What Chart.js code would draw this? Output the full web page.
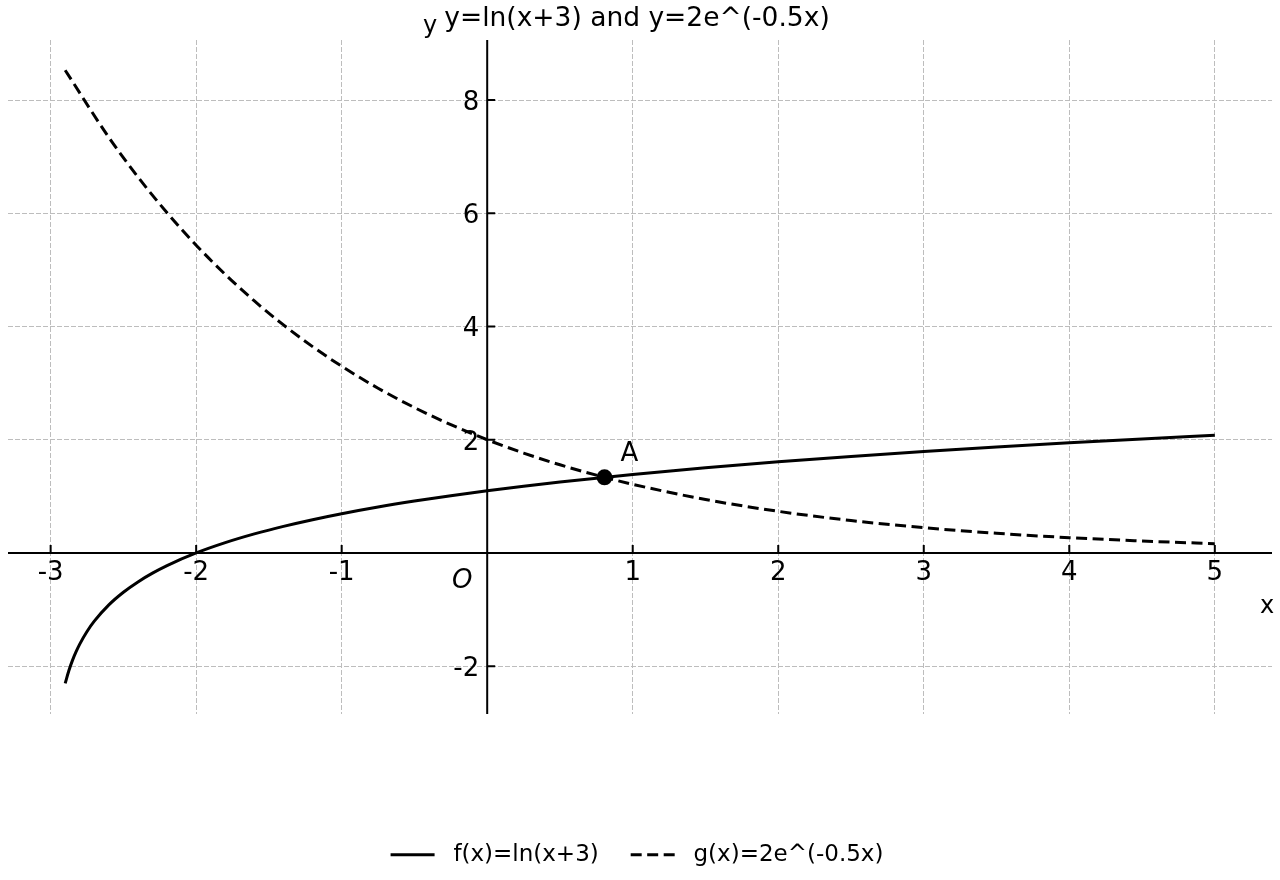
<!DOCTYPE html>
<html>
<head>
<meta charset="utf-8">
<script src="https://cdn.jsdelivr.net/npm/chart.js@4.4.1/dist/chart.umd.min.js"></script>
<style>
html,body{margin:0;padding:0;background:#fff;}
#wrap{width:1280px;height:880px;}
</style>
</head>
<body>
<div id="wrap"><canvas id="c" width="1280" height="880"></canvas></div>
<script>
// ---- data ----
const titleText = 'y=ln(x+3) and y=2e^(-0.5x)';
const seriesLabels = ['f(x)=ln(x+3)', 'g(x)=2e^(-0.5x)'];

const fX = [-2.9, -2.875, -2.85, -2.825, -2.8, -2.75, -2.7, -2.6, -2.5, -2.4, -2.3, -2.2, -2.0, -1.8, -1.6, -1.4, -1.2, -1.0, -0.75, -0.5, -0.25, 0, 0.25, 0.5, 0.75, 1.0, 1.5, 2.0, 2.5, 3.0, 3.5, 4.0, 4.5, 5.0];
const fY = [-2.3026, -2.0794, -1.8971, -1.7430, -1.6094, -1.3863, -1.2040, -0.9163, -0.6931, -0.5108, -0.3567, -0.2231, 0, 0.1823, 0.3365, 0.4700, 0.5878, 0.6931, 0.8109, 0.9163, 1.0116, 1.0986, 1.1787, 1.2528, 1.3218, 1.3863, 1.5041, 1.6094, 1.7047, 1.7918, 1.8718, 1.9459, 2.0149, 2.0794];

const gX = [-2.9, -2.6, -2.4, -2.2, -2.0, -1.8, -1.6, -1.4, -1.2, -1.0, -0.75, -0.5, -0.25, 0, 0.25, 0.5, 0.75, 1.0, 1.5, 2.0, 2.5, 3.0, 3.5, 4.0, 4.5, 5.0];
const gY = [8.5262, 7.3386, 6.6402, 6.0083, 5.4366, 4.9192, 4.4511, 4.0275, 3.6442, 3.2974, 2.9100, 2.5681, 2.2663, 2.0, 1.7650, 1.5576, 1.3746, 1.2131, 0.9447, 0.7358, 0.5730, 0.4463, 0.3475, 0.2707, 0.2108, 0.1642];

const pointAX = [0.806];
const pointAY = [1.336];
const pointLabels = ['A', 'O'];

const xTickValues = [-3, -2, -1, 1, 2, 3, 4, 5];
const yTickValues = [-2, 2, 4, 6, 8];
const xRange = [-3.293, 5.393];
const yRange = [-2.843, 9.06];
const axisNames = ['x', 'y'];

// ---- build chart ----
const FONT = "'DejaVu Sans', sans-serif";
const toPts = (xs, ys) => xs.map((v, i) => ({x: v, y: ys[i]}));
const DASH = [11, 5.5];

const axesPlugin = {
  id: 'axesPlugin',
  beforeDatasetsDraw(chart) {
    const {ctx, chartArea: a, scales: {x, y}} = chart;
    const x0 = x.getPixelForValue(0), y0 = y.getPixelForValue(0);
    ctx.save();
    ctx.setLineDash([]);
    ctx.strokeStyle = '#000';
    ctx.lineWidth = 2;
    ctx.beginPath();
    ctx.moveTo(a.left, y0); ctx.lineTo(a.right, y0);
    ctx.moveTo(x0, a.top); ctx.lineTo(x0, a.bottom);
    ctx.stroke();
    ctx.beginPath();
    x.ticks.forEach(t => { const px = x.getPixelForValue(t.value); ctx.moveTo(px, y0); ctx.lineTo(px, y0 - 8); });
    y.ticks.forEach(t => { const py = y.getPixelForValue(t.value); ctx.moveTo(x0, py); ctx.lineTo(x0 + 8, py); });
    ctx.stroke();
    ctx.restore();
  },
  afterDraw(chart) {
    const {ctx, scales: {x, y}} = chart;
    const x0 = x.getPixelForValue(0), y0 = y.getPixelForValue(0);
    ctx.save();
    ctx.fillStyle = '#000';
    ctx.font = '26px ' + FONT;
    ctx.textBaseline = 'alphabetic';
    ctx.textAlign = 'center';
    x.ticks.forEach(t => ctx.fillText(String(t.value), x.getPixelForValue(t.value), y0 + 27));
    ctx.textAlign = 'right';
    y.ticks.forEach(t => ctx.fillText(String(t.value), x0 - 8, y.getPixelForValue(t.value) + 10));
    // axis names
    ctx.font = '24px ' + FONT;
    ctx.textAlign = 'center';
    ctx.fillText(axisNames[0], 1267, y0 + 60);
    ctx.fillText(axisNames[1], x0 - 57, 33);
    // origin label
    ctx.font = 'italic 26px ' + FONT;
    ctx.fillText(pointLabels[1], x0 - 25, y0 + 35);
    // point A label
    ctx.font = '26px ' + FONT;
    ctx.textAlign = 'left';
    ctx.fillText(pointLabels[0], x.getPixelForValue(pointAX[0]) + 16, y.getPixelForValue(pointAY[0]) - 16);
    ctx.restore();
  }
};

const gridOpts = {
  display: true,
  color: '#bdbdbd',
  lineWidth: 1,
  drawTicks: false
};

new Chart(document.getElementById('c'), {
  type: 'scatter',
  data: {
    datasets: [
      {
        label: 'A',
        data: toPts(pointAX, pointAY),
        showLine: false,
        pointRadius: 8,
        pointBackgroundColor: '#000',
        pointBorderColor: '#000',
        pointBorderWidth: 0
      },
      {
        label: seriesLabels[0],
        data: toPts(fX, fY),
        showLine: true,
        borderColor: '#000',
        backgroundColor: '#000',
        borderWidth: 3,
        pointRadius: 0,
        pointHoverRadius: 0,
        cubicInterpolationMode: 'monotone'
      },
      {
        label: seriesLabels[1],
        data: toPts(gX, gY),
        showLine: true,
        borderColor: '#000',
        backgroundColor: '#000',
        borderWidth: 3,
        borderDash: DASH,
        pointRadius: 0,
        pointHoverRadius: 0,
        cubicInterpolationMode: 'monotone'
      }
    ]
  },
  options: {
    responsive: false,
    animation: false,
    devicePixelRatio: 1,
    layout: { padding: { left: 0, right: 6, top: 0, bottom: 3.75 } },
    scales: {
      x: {
        type: 'linear',
        position: 'bottom',
        min: xRange[0],
        max: xRange[1],
        afterBuildTicks: s => { s.ticks = xTickValues.map(v => ({value: v})); },
        afterFit: s => { s.height = 119.3; },
        ticks: { display: false },
        grid: gridOpts,
        border: { display: false, dash: [5, 2] }
      },
      y: {
        type: 'linear',
        position: 'left',
        min: yRange[0],
        max: yRange[1],
        afterBuildTicks: s => { s.ticks = yTickValues.map(v => ({value: v})); },
        afterFit: s => { s.width = 6; },
        ticks: { display: false },
        grid: gridOpts,
        border: { display: false, dash: [5, 2] }
      }
    },
    plugins: {
      title: {
        display: true,
        text: titleText,
        color: '#000',
        font: { family: FONT, size: 26.5, weight: 'normal', lineHeight: 1.2 },
        padding: { top: 3.5, bottom: 4.7 }
      },
      legend: {
        display: true,
        position: 'bottom',
        labels: {
          color: '#000',
          font: { family: FONT, size: 23 },
          usePointStyle: true,
          pointStyle: 'line',
          pointStyleWidth: 44,
          padding: 10,
          filter: item => item.datasetIndex !== 0,
          generateLabels: chart => {
            const items = Chart.defaults.plugins.legend.labels.generateLabels(chart);
            items.forEach(it => {
              const ds = chart.data.datasets[it.datasetIndex];
              it.pointStyle = 'line';
              it.lineDash = ds.borderDash || [];
              it.lineWidth = ds.borderWidth;
              it.strokeStyle = ds.borderColor;
              it.text = ' ' + it.text;
            });
            const first = items.find(it => it.datasetIndex === 1);
            if (first) first.text = first.text + '   ';
            return items;
          }
        }
      },
      tooltip: { enabled: false }
    }
  },
  plugins: [axesPlugin]
});
</script>
</body>
</html>
